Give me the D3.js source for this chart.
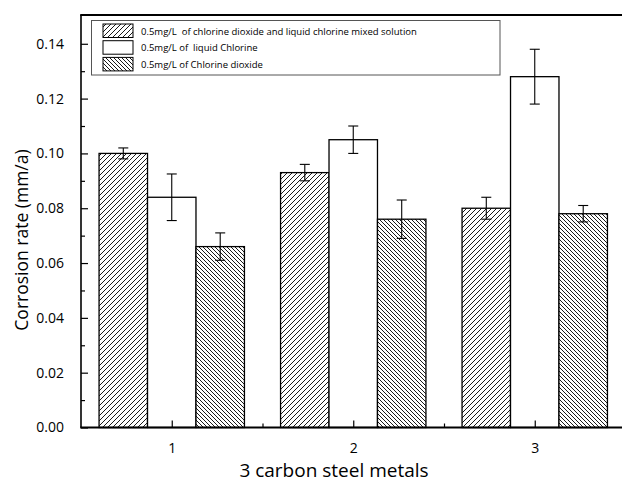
<!DOCTYPE html>
<html>
<head>
<meta charset="utf-8">
<script src="https://cdn.jsdelivr.net/npm/d3@7"></script>
<style>
  body { margin: 0; background: #fff; }
  text { font-family: "Open Sans", sans-serif; fill: #000; }
</style>
</head>
<body>
<div id="chart"></div>
<script>
// data
const categories = [1, 2, 3];
const seriesNames = [
  "0.5mg/L  of chlorine dioxide and liquid chlorine mixed solution",
  "0.5mg/L of  liquid Chlorine",
  "0.5mg/L of Chlorine dioxide"
];
const mixedValues = [0.100, 0.093, 0.080];
const mixedErrors = [0.002, 0.003, 0.004];
const chlorineValues = [0.084, 0.105, 0.128];
const chlorineErrors = [0.0085, 0.005, 0.010];
const dioxideValues = [0.066, 0.076, 0.078];
const dioxideErrors = [0.005, 0.007, 0.003];
const yTicks = [0, 0.02, 0.04, 0.06, 0.08, 0.10, 0.12, 0.14];

// constants for plot design
const WIDTH = 622;
const HEIGHT = 482;
const MARGINS = {left: 81, right: 0, top: 15, bottom: 55};
const BAR_W = 0.267;

const series = [
  {name: seriesNames[0], values: mixedValues, errors: mixedErrors, fill: "url(#hatchA)", offset: -1},
  {name: seriesNames[1], values: chlorineValues, errors: chlorineErrors, fill: "#fff", offset: 0},
  {name: seriesNames[2], values: dioxideValues, errors: dioxideErrors, fill: "url(#hatchB)", offset: 1}
];

const xScale = d3.scaleLinear()
                 .domain([0.5, 3.5])
                 .range([MARGINS.left, MARGINS.left + 3 * 181.5]);

const yScale = d3.scaleLinear()
                 .domain([0, 0.1505])
                 .range([HEIGHT - MARGINS.bottom + 0.5, MARGINS.top]);

const svg = d3.select("#chart")
              .append("svg")
                .attr("width", WIDTH)
                .attr("height", HEIGHT);

// hatch patterns
const defs = svg.append("defs");
function hatch(id, size, forward) {
  const p = defs.append("pattern")
                .attr("id", id)
                .attr("patternUnits", "userSpaceOnUse")
                .attr("width", size)
                .attr("height", size);
  p.append("rect").attr("width", size).attr("height", size).attr("fill", "#fff");
  const segs = forward
    ? [[0, size, size, 0], [-1, 1, 1, -1], [size - 1, size + 1, size + 1, size - 1]]
    : [[0, 0, size, size], [-1, size - 1, 1, size + 1], [size - 1, -1, size + 1, 1]];
  segs.forEach(s => {
    p.append("line")
      .attr("x1", s[0]).attr("y1", s[1]).attr("x2", s[2]).attr("y2", s[3])
      .attr("stroke", "#000").attr("stroke-width", 0.9);
  });
}
hatch("hatchA", 5, true);
hatch("hatchB", 4, false);

// bars
series.forEach(s => {
  svg.append("g")
    .selectAll("rect")
    .data(categories)
    .join("rect")
      .attr("x", (d) => xScale(d + s.offset * BAR_W - BAR_W / 2))
      .attr("y", (d, i) => yScale(s.values[i]))
      .attr("width", xScale(BAR_W) - xScale(0))
      .attr("height", (d, i) => yScale(0) - yScale(s.values[i]))
      .attr("fill", s.fill)
      .attr("stroke", "#000")
      .attr("stroke-width", 1.3);
});

// error bars
series.forEach(s => {
  const g = svg.append("g").attr("stroke", "#000").attr("stroke-width", 1.1);
  categories.forEach((c, i) => {
    const cx = xScale(c + s.offset * BAR_W);
    const lo = yScale(s.values[i] - s.errors[i]);
    const hi = yScale(s.values[i] + s.errors[i]);
    g.append("line").attr("x1", cx).attr("x2", cx).attr("y1", lo).attr("y2", hi);
    g.append("line").attr("x1", cx - 5).attr("x2", cx + 5).attr("y1", lo).attr("y2", lo);
    g.append("line").attr("x1", cx - 5).attr("x2", cx + 5).attr("y1", hi).attr("y2", hi);
  });
});

// y axis, ticks pointing inward
const yAxis = svg.append("g")
   .attr("transform", "translate(" + MARGINS.left + ",0)")
   .call(d3.axisRight(yScale).tickValues(yTicks).tickSize(7).tickFormat(d3.format(".2f")));
yAxis.select(".domain").remove();
yAxis.selectAll("line").attr("stroke-width", 1.2);
yAxis.selectAll("text")
     .attr("x", -17)
     .attr("text-anchor", "end")
     .attr("font-size", "14px");

svg.append("g")
   .attr("transform", "translate(" + MARGINS.left + ",0)")
   .call(d3.axisRight(yScale).tickValues(d3.range(0.01, 0.15, 0.02)).tickSize(4).tickFormat(""))
   .call(g => g.select(".domain").remove())
   .selectAll("line").attr("stroke-width", 1.2);

// x axis, ticks pointing inward
const xAxis = svg.append("g")
   .attr("transform", "translate(0," + yScale(0) + ")")
   .call(d3.axisTop(xScale).tickValues(categories).tickSize(7).tickFormat(d3.format("d")));
xAxis.select(".domain").remove();
xAxis.selectAll("line").attr("stroke-width", 1.2);
xAxis.selectAll("text")
     .attr("y", 25)
     .attr("font-size", "14px");

svg.append("g")
   .attr("transform", "translate(0," + yScale(0) + ")")
   .call(d3.axisTop(xScale).tickValues([1.5, 2.5]).tickSize(4).tickFormat(""))
   .call(g => g.select(".domain").remove())
   .selectAll("line").attr("stroke-width", 1.2);

// frame lines: left, top, bottom
svg.append("line")
   .attr("x1", MARGINS.left).attr("x2", MARGINS.left)
   .attr("y1", yScale.range()[1]).attr("y2", yScale(0))
   .attr("stroke", "#000").attr("stroke-width", 1.6);
svg.append("line")
   .attr("x1", MARGINS.left - 0.8).attr("x2", WIDTH)
   .attr("y1", yScale.range()[1]).attr("y2", yScale.range()[1])
   .attr("stroke", "#000").attr("stroke-width", 1.8);
svg.append("line")
   .attr("x1", MARGINS.left - 0.8).attr("x2", WIDTH)
   .attr("y1", yScale(0)).attr("y2", yScale(0))
   .attr("stroke", "#000").attr("stroke-width", 2);

// axis titles
svg.append("text")
   .attr("x", 334)
   .attr("y", 477)
   .attr("text-anchor", "middle")
   .attr("font-size", "19px")
   .text("3 carbon steel metals");

svg.append("text")
   .attr("transform", "translate(28,240) rotate(-90)")
   .attr("text-anchor", "middle")
   .attr("font-size", "17.5px")
   .text("Corrosion rate (mm/a)");

// legend
const legend = svg.append("g");
legend.append("rect")
   .attr("x", 91.5).attr("y", 20.5)
   .attr("width", 408.5).attr("height", 54.5)
   .attr("fill", "#fff")
   .attr("stroke", "#555")
   .attr("stroke-width", 1);

series.forEach((s, i) => {
  const ry = 24 + i * 16.7;
  legend.append("rect")
     .attr("x", 103).attr("y", ry)
     .attr("width", 30).attr("height", 13.5)
     .attr("fill", s.fill)
     .attr("stroke", "#000")
     .attr("stroke-width", 1);
  legend.append("text")
     .attr("x", 141).attr("y", ry + 10.5)
     .attr("font-size", "9.5px")
     .style("white-space", "pre")
     .text(s.name);
});
</script>
</body>
</html>
